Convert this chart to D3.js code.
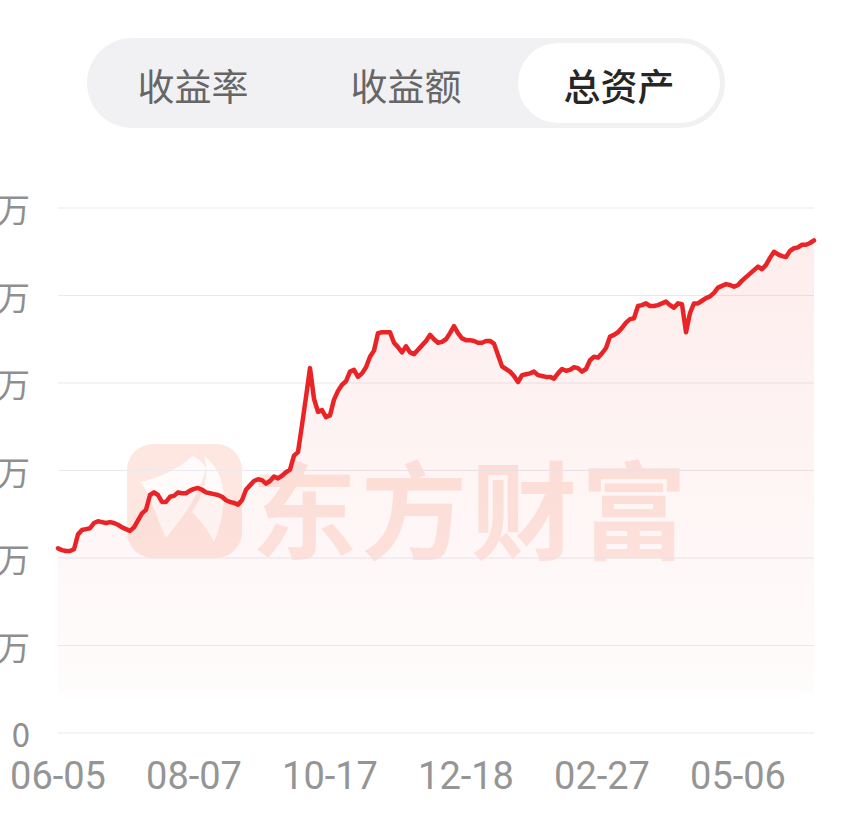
<!DOCTYPE html>
<html><head><meta charset="utf-8">
<script src="https://cdn.jsdelivr.net/npm/d3@7"></script>
<style>
html,body{margin:0;padding:0;background:#fff;overflow:hidden}
svg{display:block}
</style></head>
<body>
<svg id="chart" width="843" height="828"></svg>
<script>
// ---- data ----
const tabs = ["收益率", "收益额", "总资产"];
const activeTab = 2;
const dateLabels = ["06-05", "08-07", "10-17", "12-18", "02-27", "05-06"];
const dateIndex = [0, 34, 68, 102, 136, 170];
const yTicks = [0, 1, 2, 3, 4, 5, 6];
const yTickLabels = ["0", "1万", "2万", "3万", "4万", "5万", "6万"];
const areaBase = 0.46; // where the shaded fill stops (万)
// total assets (万), one point per trading day
const assets = [
 2.11,2.09,2.08,2.08,2.10,2.27,2.32,2.33,2.34,2.40,
 2.42,2.41,2.40,2.41,2.40,2.38,2.35,2.33,2.31,2.35,
 2.43,2.51,2.55,2.72,2.75,2.72,2.64,2.64,2.70,2.71,
 2.75,2.74,2.74,2.77,2.79,2.80,2.78,2.75,2.74,2.73,
 2.72,2.70,2.66,2.64,2.63,2.61,2.66,2.78,2.83,2.88,
 2.90,2.89,2.85,2.88,2.93,2.91,2.94,2.98,3.01,3.17,
 3.21,3.52,3.84,4.17,3.82,3.67,3.69,3.61,3.63,3.81,
 3.91,3.98,4.02,4.13,4.15,4.07,4.11,4.18,4.30,4.37,
 4.57,4.58,4.58,4.58,4.46,4.41,4.35,4.42,4.35,4.33,
 4.38,4.43,4.48,4.55,4.50,4.46,4.47,4.50,4.57,4.65,
 4.57,4.51,4.49,4.49,4.48,4.46,4.46,4.48,4.48,4.45,
 4.32,4.19,4.16,4.13,4.08,4.01,4.09,4.10,4.11,4.13,
 4.09,4.08,4.07,4.07,4.05,4.11,4.16,4.14,4.15,4.18,
 4.17,4.13,4.16,4.26,4.30,4.29,4.34,4.40,4.53,4.55,
 4.58,4.63,4.69,4.73,4.74,4.88,4.89,4.91,4.88,4.88,
 4.89,4.91,4.93,4.89,4.86,4.91,4.90,4.58,4.80,4.91,
 4.91,4.94,4.97,4.99,5.03,5.09,5.11,5.13,5.12,5.10,
 5.12,5.17,5.21,5.25,5.29,5.33,5.30,5.35,5.43,5.50,
 5.47,5.45,5.44,5.51,5.54,5.55,5.58,5.58,5.60,5.63
];

// ---- drawing ----
const svg = d3.select("#chart");
const CJK = "'Noto Sans CJK SC','Noto Sans',sans-serif";
const NUM = "Roboto,'Noto Sans',sans-serif";

// tab bar
const tabG = svg.append("g");
tabG.append("rect").attr("x", 87).attr("y", 38).attr("width", 638).attr("height", 90)
  .attr("rx", 45).attr("fill", "#f1f1f3");
const tabX = d3.scalePoint().domain(tabs).range([193, 619]);
tabG.append("rect").attr("x", tabX(tabs[activeTab]) - 101).attr("y", 43)
  .attr("width", 202).attr("height", 80).attr("rx", 40).attr("fill", "#ffffff");
tabG.selectAll("text.tab").data(tabs).join("text")
  .attr("class", "tab")
  .attr("x", d => tabX(d)).attr("y", 85)
  .attr("text-anchor", "middle").attr("dominant-baseline", "central")
  .attr("font-family", CJK).attr("font-size", 37)
  .attr("font-weight", (d, i) => i === activeTab ? 500 : 400)
  .attr("fill", (d, i) => i === activeTab ? "#262626" : "#666666")
  .text(d => d);

const x = d3.scaleLinear().domain([0, assets.length - 1]).range([58, 814]);
const y = d3.scaleLinear().domain([0, 6]).range([733, 208]);

// watermark
const wm = svg.append("g").attr("opacity", 0.6);
wm.append("rect").attr("x", 127).attr("y", 444).attr("width", 115).attr("height", 114)
  .attr("rx", 26).attr("fill", "#fcd8cc");
wm.append("path")
  .attr("d", "M192,456 C178,470 158,478 140,482 C150,492 154,512 166,538 C180,520 198,500 206,468 C202,462 198,458 192,456 Z")
  .attr("fill", "#ffffff").attr("opacity", 0.85);
wm.append("path")
  .attr("d", "M204,456 C226,472 230,502 214,542 C208,530 200,520 192,512 C204,494 210,476 204,456 Z")
  .attr("fill", "#ffffff").attr("opacity", 0.85);
wm.append("text").attr("x", 471).attr("y", 505)
  .attr("text-anchor", "middle").attr("dominant-baseline", "central")
  .attr("font-family", CJK).attr("font-weight", 700).attr("font-size", 106)
  .attr("letter-spacing", 4)
  .attr("fill", "#fcd8cc").text("东方财富");

// gridlines
svg.append("g").selectAll("line").data(yTicks).join("line")
  .attr("x1", 58).attr("x2", 814)
  .attr("y1", d => y(d)).attr("y2", d => y(d))
  .attr("stroke", "#e9e9ef").attr("stroke-width", 1.2);

// y labels
svg.append("g").selectAll("text").data(yTicks).join("text")
  .attr("x", 30).attr("y", d => y(d))
  .attr("text-anchor", "end").attr("dominant-baseline", "central")
  .attr("font-family", CJK).attr("font-size", 33).attr("fill", "#8f8f8f")
  .text((d, i) => yTickLabels[i]);

// x labels
svg.append("g").selectAll("text").data(dateIndex).join("text")
  .attr("x", d => x(d)).attr("y", 789)
  .attr("text-anchor", "middle")
  .attr("font-family", NUM).attr("font-size", 38).attr("fill", "#959595")
  .text((d, i) => dateLabels[i]);

// area gradient
const defs = svg.append("defs");
const grad = defs.append("linearGradient").attr("id", "fillGrad")
  .attr("gradientUnits", "userSpaceOnUse")
  .attr("x1", 0).attr("x2", 0).attr("y1", y(5.6)).attr("y2", y(areaBase));
grad.append("stop").attr("offset", "0%").attr("stop-color", "#f55a5a").attr("stop-opacity", 0.11);
grad.append("stop").attr("offset", "100%").attr("stop-color", "#f55a5a").attr("stop-opacity", 0.02);

svg.append("path").datum(assets)
  .attr("d", d3.area().x((d, i) => x(i)).y0(y(areaBase)).y1(d => y(d)))
  .attr("fill", "url(#fillGrad)");

svg.append("path").datum(assets)
  .attr("d", d3.line().x((d, i) => x(i)).y(d => y(d)))
  .attr("fill", "none").attr("stroke", "#ea2426").attr("stroke-width", 4.5)
  .attr("stroke-linejoin", "round").attr("stroke-linecap", "round");
</script>
</body></html>
